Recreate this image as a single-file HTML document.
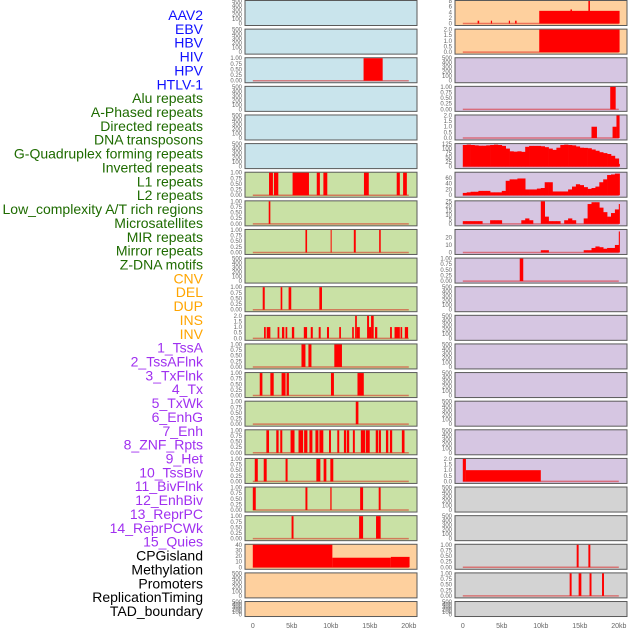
<!DOCTYPE html>
<html><head><meta charset="utf-8">
<style>
html,body{margin:0;padding:0;background:#fff;}
svg{display:block;font-family:"Liberation Sans",sans-serif;}
</style></head>
<body>
<svg id="chart" width="630" height="630" viewBox="0 0 630 630">
<g id="labels"></g>
<g id="panels"></g>
<g id="xaxes"></g>
</svg>
<script>
// ---- track labels ----
const trackLabels = ["AAV2","EBV","HBV","HIV","HPV","HTLV-1","Alu repeats","A-Phased repeats","Directed repeats","DNA transposons","G-Quadruplex forming repeats","Inverted repeats","L1 repeats","L2 repeats","Low_complexity A/T rich regions","Microsatellites","MIR repeats","Mirror repeats","Z-DNA motifs","CNV","DEL","DUP","INS","INV","1_TssA","2_TssAFlnk","3_TxFlnk","4_Tx","5_TxWk","6_EnhG","7_Enh","8_ZNF_Rpts","9_Het","10_TssBiv","11_BivFlnk","12_EnhBiv","13_ReprPC","14_ReprPCWk","15_Quies","CPGisland","Methylation","Promoters","ReplicationTiming","TAD_boundary"];
const labelGroups = [6,13,5,15,5];
const groupColors = ["#1010ff","#1e6b00","#ffa500","#a030f0","#000000"];

// ---- tick sets ----
const ticksEmpty = [0,100,200,300,400,500];
const ticks01 = [0,0.25,0.5,0.75,1];
const ticks02 = [0,0.5,1,1.5,2];
const ticks08 = [0,2,4,6,8];
const ticks040 = [0,10,20,30,40];
const ticks0125 = [0,25,50,75,100,125];
const ticks060 = [0,20,40,60];
const ticks025 = [0,5,10,15,20,25];
const ticks020 = [0,10,20];
const xTickValues = [0,5,10,15,20];
const xTickLabels = ["0","5kb","10kb","15kb","20kb"];

// ---- left column interval data [startKb, endKb, value] ----
const leftHIV = [[14.2,16.65,1]];
const leftL1 = [[2.08,2.58,1],[2.71,3.27,1],[5.1,7.2,1],[8.2,8.6,1],[9.05,9.55,1],[14.25,14.87,1],[18.45,18.85,1],[19.27,19.75,1]];
const leftL2 = [[2.04,2.25,1]];
const leftLowComp = [[6.75,6.96,1],[9.98,10.1,1],[12.95,13.2,1],[16.2,16.4,1]];
const leftMIR = [[1.27,1.53,1],[3.57,3.78,1],[4.59,4.93,1],[8.53,8.87,1]];
const leftMirror = [[1.44,1.66,1],[1.78,2.25,1],[3.18,3.4,1],[3.74,4.04,1],[4.2,4.42,1],[5.01,5.31,1],[6.54,6.96,1],[7.43,7.69,1],[8.45,8.7,1],[9.51,9.77,1],[11.08,11.3,1],[12.74,12.95,1],[13.12,13.34,2],[13.34,13.72,1],[14.65,14.9,2],[14.9,15.16,1],[15.16,15.5,2],[15.67,15.96,1],[17.6,17.83,1],[18.17,18.85,1],[18.94,19.15,1],[19.49,19.91,1]];
const leftRow12 = [[6.24,6.75,1],[7.13,7.52,1],[10.45,11.43,1]];
const leftRow13 = [[0.89,1.23,1],[2.25,2.68,1],[3.69,4.2,1],[4.33,4.63,1],[10.02,10.4,1],[13.42,14.23,1]];
const leftRow14 = [[13.2,13.54,1]];
const leftRow15 = [[1.74,2.08,1],[3.01,3.31,1],[3.52,3.78,1],[4.84,5.35,1],[5.86,6.45,1],[6.58,7.0,1],[7.26,7.64,1],[8.03,8.41,1],[8.54,9.04,1],[9.77,10.02,1],[10.83,11.08,1],[11.68,11.97,1],[12.06,12.36,1],[12.83,13.08,1],[13.85,14.39,1],[14.48,14.99,1],[15.76,16.09,1],[16.18,16.43,1],[17.07,17.37,1],[17.58,17.87,1],[19.11,19.45,1]];
const leftRow16 = [[0.25,0.64,1],[1.4,1.78,1],[4.2,4.46,1],[8.15,8.66,1],[9.08,9.43,1],[9.94,10.32,1]];
const leftRow17 = [[0,0.38,1],[6.75,7.0,1],[9.94,10.1,1],[13.76,14.14,1],[16.14,16.39,1]];
const leftRow18 = [[4.97,5.22,1],[13.63,14.14,1],[15.8,16.39,1]];
const leftCpG = [[0,10.2,40],[10.2,17.7,17],[17.7,20.1,18.5]];

// ---- right column interval data ----
const rightRow0 = [[1.9,2.1,1],[3.6,3.75,1],[5.9,6.05,1],[6.7,6.9,1],[9.8,20.1,4.5],[13.8,14.0,5],[16.1,16.3,8]];
const rightRow1 = [[9.8,20.1,2]];
const rightRow3 = [[18.9,19.6,1]];
const rightRow4 = [[16.5,17.2,1],[19.2,19.7,1],[19.7,20.1,2]];
const rightRow9 = [[7.3,7.75,1]];
const rightRow16 = [[0,0.4,2],[0.4,10,1]];
const rightRow19 = [[14.6,14.85,1],[16.1,16.35,1]];
const rightRow20 = [[13.7,13.95,1],[14.85,15.2,1],[16.25,16.5,1],[17.85,18.1,1]];
// ---- right column binned (0.5kb) density series ----
const rightGQuad = [120,122,120,118,116,116,118,120,122,120,115,100,85,83,85,82,110,115,115,115,113,108,100,93,105,120,122,120,118,112,105,104,102,95,88,80,75,70,60,45,15];
const rightInverted = [8,10,12,12,15,15,15,10,10,10,15,50,55,55,58,58,20,20,20,23,25,45,45,13,13,13,13,20,30,38,35,28,22,25,30,45,55,70,72,75,75];
const rightL1 = [3,3,3,3,3,0,0,4,4,4,0,0,0,0,0,4,6,4,0,0,25,8,3,3,3,0,4,6,4,0,0,6,22,24,24,18,13,8,12,16,22];
const rightLowComp = [0,0,0,0,0,0,0,0,0,0,0,0,0,0,0,0,0,0,0,0,3,3,0,0,0,0,0,0,0,0,0,3,3,6,8,7,5,6,6,10,28];

const C = {blue:"#c9e4ec",green:"#c9e1a5",orange:"#fed09e",purple:"#d6c6e2",gray:"#d3d3d3"};
// row specs: [color, ticks, ymax, kind, data]
const leftRows = [
 [C.blue,ticksEmpty,500,null,null],[C.blue,ticksEmpty,500,null,null],[C.blue,ticks01,1,"iv",leftHIV],
 [C.blue,ticksEmpty,500,null,null],[C.blue,ticksEmpty,500,null,null],[C.blue,ticksEmpty,500,null,null],
 [C.green,ticks01,1,"iv",leftL1],[C.green,ticks01,1,"iv",leftL2],[C.green,ticks01,1,"iv",leftLowComp],
 [C.green,ticksEmpty,500,null,null],[C.green,ticks01,1,"iv",leftMIR],[C.green,ticks02,2,"iv",leftMirror],
 [C.green,ticks01,1,"iv",leftRow12],[C.green,ticks01,1,"iv",leftRow13],[C.green,ticks01,1,"iv",leftRow14],
 [C.green,ticks01,1,"iv",leftRow15],[C.green,ticks01,1,"iv",leftRow16],[C.green,ticks01,1,"iv",leftRow17],
 [C.green,ticks01,1,"iv",leftRow18],[C.orange,ticks040,40,"iv",leftCpG],
 [C.orange,ticksEmpty,500,null,null],[C.orange,ticksEmpty,500,null,null]];
const rightRows = [
 [C.orange,ticks08,8,"iv",rightRow0],[C.orange,ticks02,2,"iv",rightRow1],[C.purple,ticksEmpty,500,null,null],
 [C.purple,ticks01,1,"iv",rightRow3],[C.purple,ticks02,2,"iv",rightRow4],[C.purple,ticks0125,125,"bin",rightGQuad],
 [C.purple,ticks060,78,"bin",rightInverted],[C.purple,ticks025,25,"bin",rightL1],[C.purple,ticks020,30,"bin",rightLowComp],
 [C.purple,ticks01,1,"iv",rightRow9],[C.purple,ticksEmpty,500,null,null],[C.purple,ticksEmpty,500,null,null],
 [C.purple,ticksEmpty,500,null,null],[C.purple,ticksEmpty,500,null,null],[C.purple,ticksEmpty,500,null,null],
 [C.purple,ticksEmpty,500,null,null],[C.purple,ticks02,2,"iv",rightRow16],[C.gray,ticksEmpty,500,null,null],
 [C.gray,ticksEmpty,500,null,null],[C.gray,ticks01,1,"iv",rightRow19],[C.gray,ticks01,1,"iv",rightRow20],
 [C.gray,ticksEmpty,500,null,null]];

const NS="http://www.w3.org/2000/svg";
function mk(tag, attrs, parent){const e=document.createElementNS(NS,tag);for(const k in attrs)e.setAttribute(k,attrs[k]);parent.appendChild(e);return e;}

// labels
const lg=document.getElementById("labels");
let li=0;
labelGroups.forEach((n,g)=>{for(let j=0;j<n;j++){
  const t=mk("text",{x:203,y:15+li*13.86+5,"text-anchor":"end","font-size":"14",fill:groupColors[g]},lg);
  t.textContent=trackLabels[li];
  
  
  li++;}});

const pg=document.getElementById("panels");
const PW=172, PITCH=28.62;
function fmt(v,ticks){const m=Math.max(...ticks);if(m===1)return v.toFixed(2);if(m===2)return v.toFixed(1);return String(v);}
function drawColumn(rows, px, side){
  const xs = kb => px + 7.8 + kb*7.8;
  rows.forEach((r,i)=>{
    const top=i*PITCH, h=(i===rows.length-1)?15:25;
    const g=mk("g",{},pg);
    
    
    const rect=mk("rect",{x:px,y:top+0.5,width:PW,height:h,fill:r[0],stroke:"#5a5a5a","stroke-width":"1"},g);
    
    
    const base=top+h-1.5, ytop=top+1;
    const ys = v => base - (v/r[2])*(base-ytop);
    r[1].forEach(tv=>{
      const t=mk("text",{x:px-3,y:ys(tv)+2,"text-anchor":"end","font-size":"6",fill:"#666"},g);
      t.textContent=fmt(tv,r[1]);
      
      
    });
    if(!r[3])return;
    const bl=mk("line",{x1:xs(0),x2:xs(20),y1:base,y2:base,stroke:"rgba(220,0,0,0.45)","stroke-width":"1.5"},g);
    
    
    if(r[3]==="iv"){
      r[4].forEach(d=>{
        const b=mk("rect",{x:xs(d[0]),y:ys(d[2]),width:Math.max(1,xs(d[1])-xs(d[0])),height:base-ys(d[2]),fill:"#ff0000"},g);
        
        
      });
    } else {
      r[4].forEach((v,k)=>{
        if(v<=0)return;
        const s=k*0.5, e=Math.min(s+0.5,20.1);
        const b=mk("rect",{x:xs(s),y:ys(v),width:xs(e)-xs(s)+0.3,height:base-ys(v),fill:"#ff0000"},g);
        
        
      });
    }
  });
  const xg=document.getElementById("xaxes");
  xTickValues.forEach((v,k)=>{
    const t=mk("text",{x:xs(v),y:628,"text-anchor":"middle","font-size":"7",fill:"#666"},xg);
    t.textContent=xTickLabels[k];
    
    
  });
}
drawColumn(leftRows,245,'left');
drawColumn(rightRows,455,'right');
</script>
</body></html>
